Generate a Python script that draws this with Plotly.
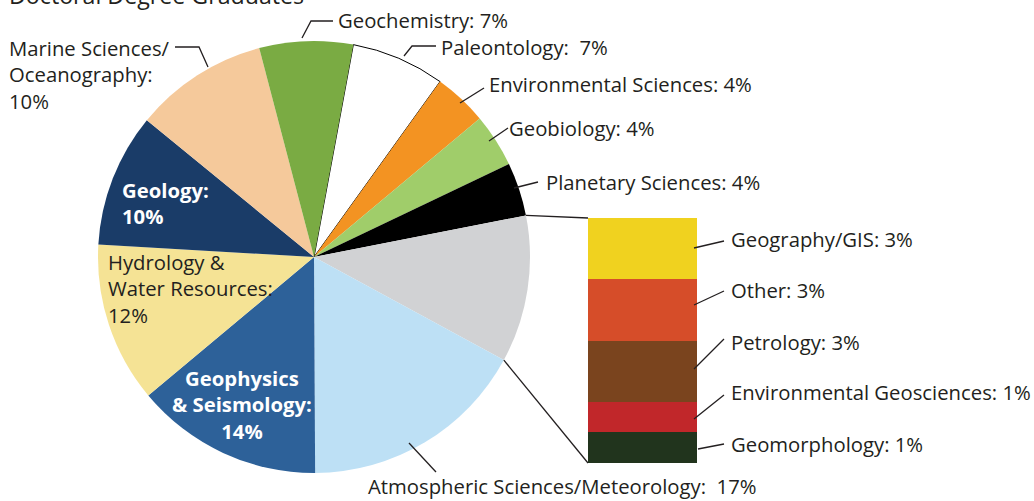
import plotly.graph_objects as go
import math

W, H = 1034, 501

# ---------------- data ----------------
pie_names = ["Paleontology", "Environmental Sciences", "Geobiology", "Planetary Sciences",
             "Other fields", "Atmospheric Sciences/Meteorology", "Geophysics & Seismology",
             "Hydrology & Water Resources", "Geology", "Marine Sciences/Oceanography", "Geochemistry"]
bar_names = ["Geography/GIS", "Other", "Petrology", "Environmental Geosciences", "Geomorphology"]
bar_values = [2.75, 2.75, 2.75, 1.375, 1.375]
pie_values = [7, 4, 4, 4, sum(bar_values), 17, 14, 12, 10, 10, 7]

pie_colors = ["#ffffff", "#f39322", "#a0cd6a", "#000000", "#d1d2d4", "#bde0f5",
              "#2d6199", "#f5e395", "#1a3c68", "#f5c99b", "#7aab43"]
bar_colors = ["#f0d21f", "#d64d29", "#7a441e", "#c1272a", "#21341d"]

TEXT = "#231f20"
FONT = "Open Sans"
FS = 20.3

# ---------------- geometry ----------------
CX, CY, R = 314, 257, 216          # pie centre / radius in pixels
ROT = 10.5                          # first slice start angle (deg clockwise from 12 o'clock)
BAR_X0, BAR_X1, BAR_Y0, BAR_Y1 = 588, 697, 218, 463


def px(x, y):
    return x / W, 1 - y / H


fig = go.Figure()

line_w = [1 if c == "#ffffff" else 0 for c in pie_colors]
fig.add_trace(go.Pie(
    labels=pie_names, values=pie_values, sort=False, direction="clockwise",
    rotation=ROT, textinfo="none", hoverinfo="label+percent",
    marker=dict(colors=pie_colors, line=dict(color="#000000", width=line_w)),
    domain=dict(x=[(CX - R) / W, (CX + R) / W], y=[1 - (CY + R) / H, 1 - (CY - R) / H]),
    showlegend=False,
))

# stacked bar: first trace at bottom
for name, val, col in reversed(list(zip(bar_names, bar_values, bar_colors))):
    fig.add_trace(go.Bar(x=[0], y=[val], name=name, marker=dict(color=col, line=dict(width=0)),
                         width=1, showlegend=False, hoverinfo="name+y"))

# connector lines from grey slice to bar
total = sum(pie_values)
gi = pie_names.index("Other fields")
a0 = math.radians(ROT + 360 * sum(pie_values[:gi]) / total)
a1 = math.radians(ROT + 360 * sum(pie_values[:gi + 1]) / total)
p0 = (CX + R * math.sin(a0), CY - R * math.cos(a0))
p1 = (CX + R * math.sin(a1), CY - R * math.cos(a1))

shapes = []


def path(points, width=1.3):
    pts = [px(*p) for p in points]
    d = "M " + " L ".join(f"{x:.5f},{y:.5f}" for x, y in pts)
    shapes.append(dict(type="path", path=d, xref="paper", yref="paper",
                       line=dict(color=TEXT, width=width)))


path([p0, (BAR_X0, BAR_Y0)])
path([p1, (BAR_X0, BAR_Y1)])

# leader lines (pixels)
leaders = [
    [(302, 38), (311, 21), (333, 21)],        # Geochemistry
    [(404, 56), (412, 46), (436, 46)],        # Paleontology
    [(460, 103), (484, 88)],                  # Environmental Sciences
    [(489, 141), (508, 128)],                 # Geobiology
    [(514, 188), (538, 182)],                 # Planetary
    [(208, 67), (199, 47), (175, 47)],        # Marine
    [(409, 443), (436, 472)],                 # Atmospheric
    [(694, 248), (724, 241)],                 # Geography
    [(694, 305), (724, 291)],                 # Other
    [(694, 369), (724, 339)],                 # Petrology
    [(694, 419), (724, 395)],                 # Env Geosciences
    [(698, 449), (724, 444)],                 # Geomorphology
]
for ld in leaders:
    path(ld)

pv = dict(zip(pie_names, pie_values))
bv = dict(zip(bar_names, bar_values))

annotations = []


def label(text, x, y, color=TEXT, anchor="left", align="left", size=FS):
    xp, yp = px(x, y)
    annotations.append(dict(text=text, x=xp, y=yp, xref="paper", yref="paper",
                            xanchor=anchor, yanchor="middle", align=align, showarrow=False,
                            borderpad=0,
                            font=dict(family=FONT, size=size, color=color)))


label(f"Geochemistry: {pv['Geochemistry']}%", 337, 20)
label(f"Paleontology:&nbsp; {pv['Paleontology']}%", 440, 47)
label(f"Environmental Sciences: {pv['Environmental Sciences']}%", 488, 84)
label(f"Geobiology: {pv['Geobiology']}%", 508, 128)
label(f"Planetary Sciences: {pv['Planetary Sciences']}%", 545, 182)
label(f"Marine Sciences/<br>Oceanography:<br>{pv['Marine Sciences/Oceanography']}%", 8, 74)
label(f"<b>Geology:<br>{pv['Geology']}%</b>", 121, 203, color="#ffffff")
label(f"Hydrology &amp;<br>Water Resources:<br>{pv['Hydrology & Water Resources']}%", 107, 288)
label(f"<b>Geophysics<br>&amp; Seismology:<br>{pv['Geophysics & Seismology']}%</b>", 242, 404,
      color="#ffffff", anchor="center", align="center")
label(f"Atmospheric Sciences/Meteorology:&nbsp; {pv['Atmospheric Sciences/Meteorology']}%", 367, 486)

bar_label_y = [239, 290, 342, 392, 444]
for name, yy in zip(bar_names, bar_label_y):
    label(f"{name}: {round(bv[name])}%", 730, yy)

label("Doctoral Degree Graduates", 8, -5, size=23.2)

fig.update_layout(
    width=W, height=H, margin=dict(l=0, r=0, t=0, b=0),
    paper_bgcolor="#ffffff", plot_bgcolor="rgba(0,0,0,0)",
    barmode="stack", bargap=0,
    xaxis=dict(domain=[BAR_X0 / W, BAR_X1 / W], range=[-0.5, 0.5], visible=False, fixedrange=True),
    yaxis=dict(domain=[1 - BAR_Y1 / H, 1 - BAR_Y0 / H], range=[0, sum(bar_values)], visible=False,
               fixedrange=True),
    shapes=shapes, annotations=annotations,
    font=dict(family=FONT, color=TEXT),
)

fig.write_html("out.html", config={"displayModeBar": False},
               post_script="document.body.style.margin='0';document.body.style.overflow='hidden';")
